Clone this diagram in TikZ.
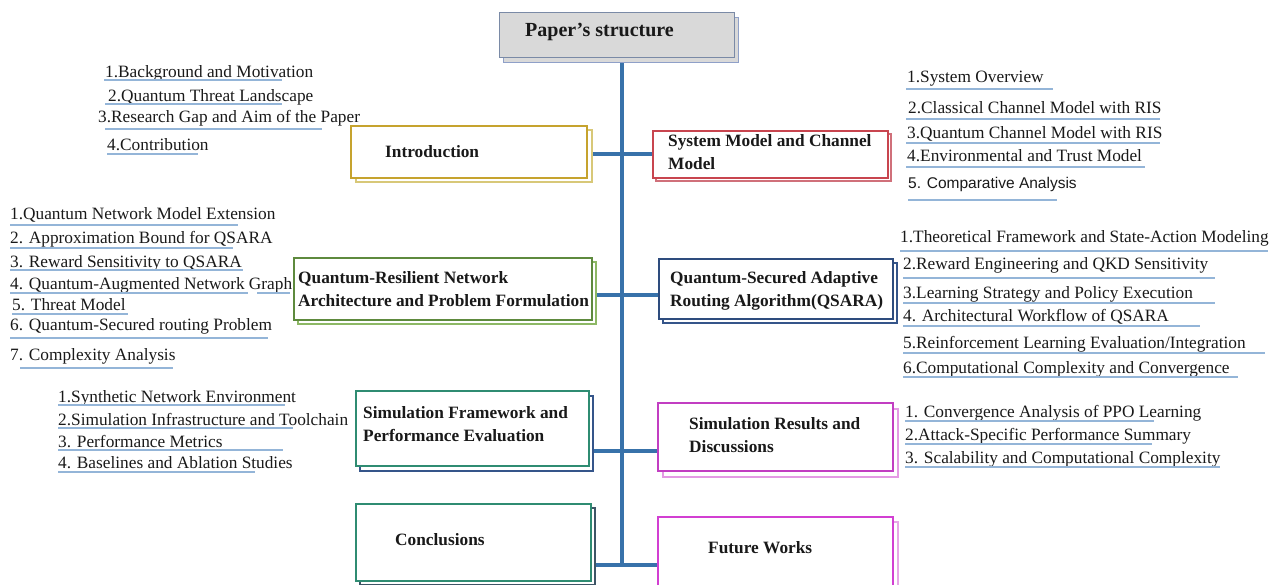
\documentclass[tikz,border=0pt]{standalone}
\usepackage{fontspec}
\setmainfont{Liberation Serif}
\newfontfamily\arialf{Liberation Sans}
\usetikzlibrary{shadows,backgrounds}
\definecolor{trunkc}{HTML}{3872AA}
\definecolor{ulc}{HTML}{94B5D8}
\definecolor{goldc}{HTML}{C6A32E}
\definecolor{goldl}{HTML}{D8C878}
\definecolor{redc}{HTML}{C8454F}
\definecolor{redl}{HTML}{D0707A}
\definecolor{greenc}{HTML}{5E8A3E}
\definecolor{greenl}{HTML}{8DB865}
\definecolor{navyc}{HTML}{2E4C7E}
\definecolor{navyl}{HTML}{35558A}
\definecolor{tealc}{HTML}{2F8C72}
\definecolor{magc}{HTML}{C23EC2}
\definecolor{magl}{HTML}{E49AE4}
\definecolor{slatec}{HTML}{3E5566}
\definecolor{futc}{HTML}{D23FD2}
\definecolor{futl}{HTML}{E6A6E6}
\definecolor{paperf}{HTML}{D9D9D9}
\definecolor{paperb}{HTML}{7A8AA6}
\definecolor{papers}{HTML}{8FA0C8}
\tikzset{
  itm/.style={anchor=base west, inner sep=0pt, font=\fontsize{17.3}{20}\selectfont, text=black!90},
  ttl/.style={anchor=west, inner sep=0pt, align=left, font=\bfseries\fontsize{17.3}{23}\selectfont, text=black!90},
  ul/.style={draw=ulc, line width=1.1pt},
  conn/.style={draw=trunkc, line width=3.2pt},
  bx/.style n args={4}{draw=#1, line width=1.6pt, fill=white, inner sep=0pt, anchor=north west,
     copy shadow={draw=#2, fill=white, line width=1.5pt, shadow xshift=#3, shadow yshift=-#4}},
}
\begin{document}
\begin{tikzpicture}[x=1pt,y=-1pt]
\path[use as bounding box] (0,0) rectangle (1284,584);

% ---------- boxes ----------
\node[draw=paperb, fill=paperf, line width=1.2pt, inner sep=0pt, anchor=north west,
      minimum width=235pt, minimum height=45pt,
      copy shadow={draw=papers, fill=paperf, line width=1.2pt, shadow xshift=4pt, shadow yshift=-5pt}]
      (paper) at (499,12) {};
\node[bx={goldc}{goldl}{5pt}{4pt}, minimum width=236pt, minimum height=52pt] (intro) at (350,125) {};
\node[bx={redc}{redl}{3pt}{3pt}, minimum width=235pt, minimum height=47pt] (sys) at (652,130) {};
\node[bx={greenc}{greenl}{4pt}{4pt}, minimum width=298pt, minimum height=62pt] (qr) at (293,257) {};
\node[bx={navyc}{navyl}{4pt}{4pt}, minimum width=234pt, minimum height=60pt] (qsara) at (658,258) {};
\node[bx={tealc}{navyl}{4pt}{5pt}, minimum width=233pt, minimum height=75pt] (simfw) at (355,390) {};
\node[bx={magc}{magl}{5pt}{6pt}, minimum width=235pt, minimum height=68pt] (simres) at (657,402) {};
\node[bx={tealc}{slatec}{4pt}{4pt}, minimum width=235pt, minimum height=77pt] (concl) at (355,503) {};
\node[bx={futc}{futl}{5pt}{5pt}, minimum width=235pt, minimum height=76pt] (future) at (657,516) {};

% ---------- box titles ----------
\node[ttl, font=\bfseries\fontsize{20}{24}\selectfont] (paper-t) at (525,32) {Paper’s structure};
\node[ttl] (intro-t) at (385,152) {Introduction};
\node[ttl] (sys-t) at (668,152.5) {System Model and Channel\\Model};
\node[ttl] (qr-t) at (298,289.5) {Quantum-Resilient Network\\Architecture and Problem Formulation};
\node[ttl] (qsara-t) at (670,290.5) {Quantum-Secured Adaptive\\Routing Algorithm(QSARA)};
\node[ttl] (simfw-t) at (363,424.5) {Simulation Framework and\\Performance Evaluation};
\node[ttl] (simres-t) at (689,435.5) {Simulation Results and\\Discussions};
\node[ttl] (concl-t) at (395,540) {Conclusions};
\node[ttl] (future-t) at (708,548) {Future Works};

% ---------- connectors ----------
\coordinate (jt) at (622,57);
\coordinate (j1) at (622,154);
\coordinate (j2) at (622,295);
\coordinate (j3) at (622,451);
\coordinate (jb) at (622,565);
\begin{pgfonlayer}{background}
\draw[conn] (jt) -- (jb);
\draw[conn] (intro.east |- j1) -- (sys.west |- j1);
\draw[conn] (qr.east |- j2) -- (qsara.west |- j2);
\draw[conn] (simfw.east |- j3) -- (simres.west |- j3);
\draw[conn] (concl.east |- jb) -- (future.west |- jb);
\end{pgfonlayer}

% ---------- Introduction items ----------
\node[itm] (in1) at (105,77) {1.Background and Motivation};
\node[itm] (in2) at (108,101) {2.Quantum Threat Landscape};
\node[itm] (in3) at (98,122) {3.Research Gap and Aim of the Paper};
\node[itm] (in4) at (107,150) {4.Contribution};
\draw[ul] (104,80) -- (282,80);
\draw[ul] (105,104) -- (282,104);
\draw[ul] (105,129) -- (322,129);
\draw[ul] (107,154) -- (198,154);

% ---------- System model items ----------
\node[itm] (sy1) at (907,82) {1.System Overview};
\node[itm] (sy2) at (908,113) {2.Classical Channel Model with RIS};
\node[itm] (sy3) at (907,138) {3.Quantum Channel Model with RIS};
\node[itm] (sy4) at (907,161) {4.Environmental and Trust Model};
\node[itm, font=\arialf\fontsize{15.5}{18}\selectfont] (sy5) at (908,188) {5. Comparative Analysis};
\draw[ul] (906,89) -- (1053,89);
\draw[ul] (906,119) -- (1160,119);
\draw[ul] (906,143) -- (1160,143);
\draw[ul] (906,167) -- (1145,167);
\draw[ul] (908,200) -- (1057,200);

% ---------- Quantum-resilient items ----------
\node[itm] (qr1) at (10,219) {1.Quantum Network Model Extension};
\node[itm] (qr2) at (10,243) {2. Approximation Bound for QSARA};
\node[itm] (qr3) at (10,267) {3. Reward Sensitivity to QSARA};
\node[itm] (qr4) at (10,289) {4. Quantum-Augmented Network Graph};
\node[itm] (qr5) at (12,310) {5. Threat Model};
\node[itm] (qr6) at (10,330) {6. Quantum-Secured routing Problem};
\node[itm] (qr7) at (10,360) {7. Complexity Analysis};
\draw[ul] (10,225) -- (238,225);
\draw[ul] (10,248) -- (233,248);
\draw[ul] (10,270) -- (243,270);
\draw[ul] (10,293) -- (248,293);
\draw[ul] (257,293) -- (290,293);
\draw[ul] (12,314) -- (128,314);
\draw[ul] (10,338) -- (268,338);
\draw[ul] (20,368) -- (173,368);

% ---------- QSARA items ----------
\node[itm] (qs1) at (900,242) {1.Theoretical Framework and State-Action Modeling};
\node[itm] (qs2) at (903,269) {2.Reward Engineering and QKD Sensitivity};
\node[itm] (qs3) at (903,298) {3.Learning Strategy and Policy Execution};
\node[itm] (qs4) at (903,321) {4. Architectural Workflow of QSARA};
\node[itm] (qs5) at (903,348) {5.Reinforcement Learning Evaluation/Integration};
\node[itm] (qs6) at (903,373) {6.Computational Complexity and Convergence};
\draw[ul] (900,251) -- (1268,251);
\draw[ul] (903,278) -- (1215,278);
\draw[ul] (903,303) -- (1215,303);
\draw[ul] (903,326) -- (1200,326);
\draw[ul] (903,353) -- (1265,353);
\draw[ul] (903,377) -- (1238,377);

% ---------- Simulation framework items ----------
\node[itm] (sf1) at (58,402) {1.Synthetic Network Environment};
\node[itm] (sf2) at (58,425) {2.Simulation Infrastructure and Toolchain};
\node[itm] (sf3) at (58,447) {3. Performance Metrics};
\node[itm] (sf4) at (58,468) {4. Baselines and Ablation Studies};
\draw[ul] (58,405) -- (285,405);
\draw[ul] (58,428) -- (293,428);
\draw[ul] (58,450) -- (283,450);
\draw[ul] (58,472) -- (255,472);

% ---------- Simulation results items ----------
\node[itm] (sr1) at (905,417) {1. Convergence Analysis of PPO Learning};
\node[itm] (sr2) at (905,440) {2.Attack-Specific Performance Summary};
\node[itm] (sr3) at (905,463) {3. Scalability and Computational Complexity};
\draw[ul] (905,421) -- (1154,421);
\draw[ul] (905,444) -- (1152,444);
\draw[ul] (905,467) -- (1220,467);
\end{tikzpicture}
\end{document}
